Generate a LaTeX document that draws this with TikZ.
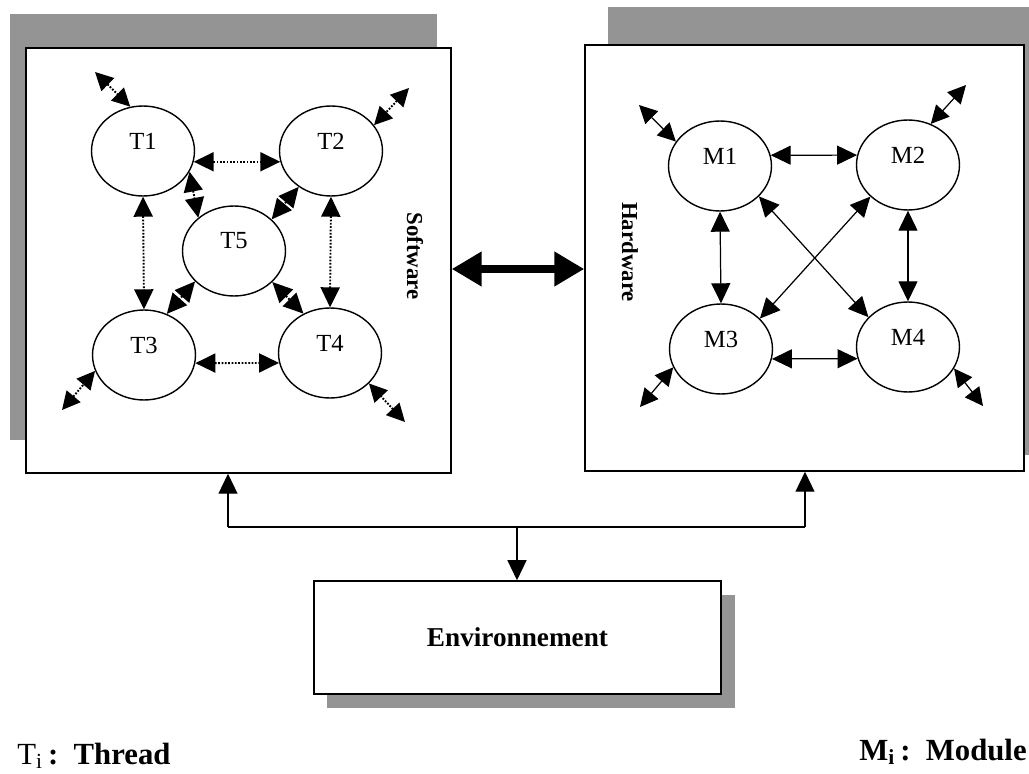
\documentclass[tikz,border=0pt]{standalone}
\usepackage{fontspec}
\setmainfont{Liberation Serif}
\usetikzlibrary{shapes.geometric,arrows.meta}
\tikzset{
  shadowbox/.style={fill=black!42, draw=none},
  mainbox/.style={rectangle, draw, line width=0.9pt, fill=white, inner sep=0pt},
  proc/.style={ellipse, draw, line width=0.8pt, minimum width=2.06cm, minimum height=1.8cm, inner sep=0pt},
  lbl/.style={font=\fontsize{14}{16}\selectfont, yshift=0.2cm},
  tipT/.tip={Triangle[length=0.4cm,width=0.38cm]},
  tipS/.tip={Triangle[length=0.36cm,width=0.36cm]},
  dotlink/.style={line width=1.1pt, dash pattern=on 1pt off 0.9pt, tipT-tipT},
  sollink/.style={line width=0.7pt, tipT-tipT},
  dotext/.style={line width=1.1pt, dash pattern=on 1pt off 0.9pt, tipS-tipS},
  solext/.style={line width=0.7pt, tipS-tipS},
  bus/.style={line width=0.7pt},
  busarrow/.style={line width=0.7pt, -tipT},
  sidelbl/.style={font=\bfseries\fontsize{13}{15}\selectfont, rotate=-90},
  bigarrow/.style={line width=4.5pt, {Triangle[length=0.6cm,width=0.66cm]}-{Triangle[length=0.6cm,width=0.66cm]}},
  legend/.style={font=\fontsize{17.5}{20}\selectfont, inner sep=0pt}
}
\begin{document}
\begin{tikzpicture}[x=0.02cm, y=-0.02cm]
\useasboundingbox (0,0) rectangle (1029,774);

% shadows
\fill[shadowbox] (10,14) rectangle (437,440);
\fill[shadowbox] (608,7) rectangle (1029,455);
\fill[shadowbox] (327,595) rectangle (735,708);

% main boxes
\node[mainbox, minimum width=8.5cm, minimum height=8.5cm] (sw) at (238.5,260.5) {};
\node[mainbox, minimum width=8.78cm, minimum height=8.52cm] (hw) at (804.5,258) {};
\node[mainbox, minimum width=8.14cm, minimum height=2.26cm, font=\bfseries\fontsize{15.5}{18}\selectfont] (env) at (517.5,637.5) {Environnement};

% side labels
\node[sidelbl] (swlbl) at (415,256) {Software};
\node[sidelbl] (hwlbl) at (630,252) {Hardware};

% software threads
\node[proc, label={[lbl]center:T1}] (T1) at (143,151) {};
\node[proc, label={[lbl]center:T2}] (T2) at (331,151) {};
\node[proc, label={[lbl]center:T5}] (T5) at (234,251) {};
\node[proc, label={[lbl]center:T3}] (T3) at (144,355) {};
\node[proc, label={[lbl]center:T4}] (T4) at (330,353) {};

\draw[dotlink] (T1.-12) -- (T2.192);
\draw[dotlink] (T3.-9) -- (T4.191);
\draw[dotlink] (T1.-90) -- (T3.90);
\draw[dotlink] (T2.-90) -- (T4.90);
\draw[dotlink] (T1.-24) -- (T5.137);
\draw[dotlink] (T2.228) -- (T5.40);
\draw[dotlink] (T5.218) -- (T3.61);
\draw[dotlink] (T5.-39) -- (T4.124);

\coordinate (eT1) at (95,72);
\coordinate (eT2) at (409,88);
\coordinate (eT3) at (62,410);
\coordinate (eT4) at (405,422);
\draw[dotext] (eT1) -- (T1.106);
\draw[dotext] (eT2) -- (T2.31);
\draw[dotext] (eT3) -- (T3.198);
\draw[dotext] (eT4) -- (T4.-38);

% hardware modules
\node[proc, label={[lbl]center:M1}] (M1) at (720,166) {};
\node[proc, label={[lbl]center:M2}] (M2) at (908,165) {};
\node[proc, label={[lbl]center:M3}] (M3) at (721,349) {};
\node[proc, label={[lbl]center:M4}] (M4) at (908,347) {};

\draw[sollink] (M1.12) -- (M2.169);
\draw[sollink] (M3.-11) -- (M4.193);
\draw[sollink] (M1.-90) -- (M3.90);
\draw[sollink] (M2.-90) -- (M4.90);
\draw[sollink] (M1.-38) -- (M4.143);
\draw[sollink] (M2.220) -- (M3.38);

\coordinate (eM1) at (639,105);
\coordinate (eM2) at (966,85);
\coordinate (eM3) at (640,407);
\coordinate (eM4) at (983,406);
\draw[solext] (eM1) -- (M1.151);
\draw[solext] (eM2) -- (M2.61);
\draw[solext] (eM3) -- (M3.201);
\draw[solext] (eM4) -- (M4.-25);

% software <-> hardware
\coordinate (arrowy) at (0,269);
\draw[bigarrow] (sw.east |- arrowy) -- (hw.west |- arrowy);

% environment bus
\coordinate (jn) at (517,527);
\coordinate (bl) at (228,527);
\coordinate (br) at (805,527);
\draw[bus] (bl) -- (br);
\draw[busarrow] (bl) -- (bl |- sw.south);
\draw[busarrow] (br) -- (br |- hw.south);
\draw[busarrow] (jn) -- (jn |- env.north);

% legend
\node[legend, anchor=base west] (legT) at (17,764) {T\textsubscript{i}\,\textbf{:}\enspace\textbf{Thread}};
\node[legend, anchor=base east] (legM) at (1027,760) {\textbf{M\textsubscript{i}\,:\enspace Module}};
\end{tikzpicture}
\end{document}
